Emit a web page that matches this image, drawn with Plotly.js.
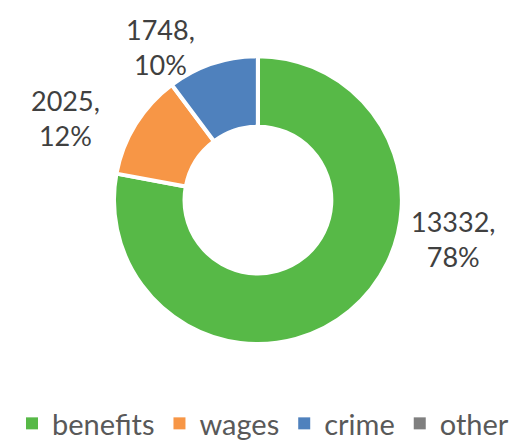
<!DOCTYPE html>
<html>
<head>
<meta charset="utf-8">
<script src="https://cdn.plot.ly/plotly-3.0.1.min.js"></script>
<style>html,body{margin:0;padding:0;background:#fff;}#chart{width:526px;height:442px;}</style>
</head>
<body>
<div id="chart"></div>
<script>
const categories = ["benefits", "wages", "crime", "other"];
const values = [13332, 2025, 1748, 0];
const colors = ["#57B947", "#F79646", "#4F81BD", "#7F7F7F"];
// data-label placement (paper coords) for the non-empty slices
const labelX = [0.861, 0.124, 0.306];
const labelY = [0.459, 0.733, 0.894];

const total = values.reduce((a, b) => a + b, 0);

const trace = {
  type: "pie",
  labels: categories,
  values: values,
  hole: 0.51,
  sort: false,
  direction: "clockwise",
  rotation: 0,
  marker: { colors: colors, line: { color: "#ffffff", width: 4 } },
  textinfo: "none",
  showlegend: true,
  domain: { x: [0.2167, 0.764], y: [0.2217, 0.873] },
  hoverinfo: "label+value+percent"
};

const annotations = labelX.map((x, i) => ({
  xref: "paper", yref: "paper",
  x: x, y: labelY[i],
  xanchor: "center", yanchor: "middle",
  showarrow: false,
  align: "center",
  text: values[i] + ",<br>" + Math.round(values[i] / total * 100) + "%",
  font: { family: "Lato, sans-serif", size: 27, color: "#404040" }
}));

const layout = {
  width: 526,
  height: 442,
  margin: { l: 0, r: 0, t: 0, b: 0 },
  paper_bgcolor: "#ffffff",
  showlegend: true,
  annotations: annotations,
  legend: {
    orientation: "h",
    x: 0.5, xanchor: "center",
    y: 0, yanchor: "bottom",
    font: { family: "Lato, sans-serif", size: 29, color: "#595959" },
    traceorder: "normal"
  },
  font: { family: "Lato, sans-serif" }
};

function tweakLegend(gd) {
  gd.querySelectorAll(".legend .legendpoints path").forEach(function (p) {
    p.style.strokeWidth = "0px";
  });
  const lg = gd.querySelector("g.legend");
  if (lg) {
    const t = lg.getAttribute("transform") || "";
    const m = t.match(/translate\(\s*([-\d.]+)[ ,]+([-\d.]+)\s*\)/);
    if (m) lg.setAttribute("transform", "translate(" + m[1] + "," + (parseFloat(m[2]) + 7) + ")");
  }
}

Plotly.newPlot("chart", [trace], layout, { displayModeBar: false, staticPlot: true }).then(tweakLegend);
</script>
</body>
</html>
